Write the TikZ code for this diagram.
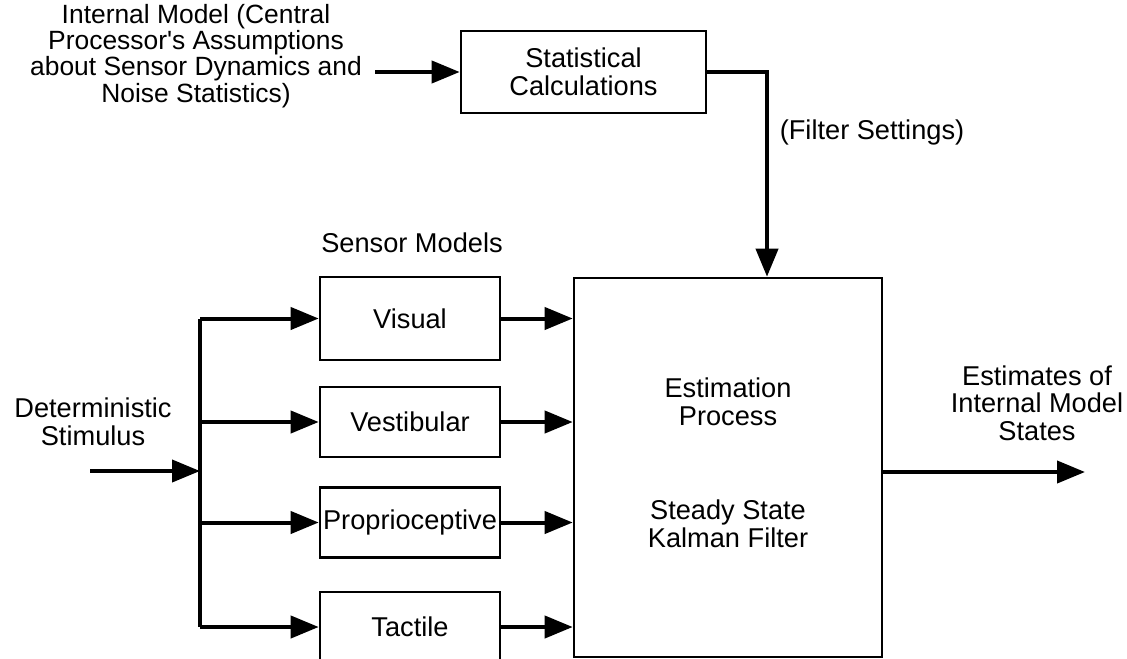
\documentclass[tikz,border=0pt]{standalone}
\usepackage{fontspec}
\setmainfont{Liberation Sans}
\usetikzlibrary{arrows.meta}

\tikzset{
  blk/.style={draw,line width=1.3pt,inner sep=0pt},
  lbl/.style={align=center,inner sep=0pt,font=\fontsize{13.6}{13.8}\selectfont},
  arr/.style={line width=2pt,-{Triangle[length=14pt,width=11pt]}}
}

\begin{document}
\begin{tikzpicture}[x=0.5pt,y=-0.5pt]
     \clip (0,0) rectangle (1127,658);
     \fill[white] (0,0) rectangle (1127,658);

     % top row
     \node[lbl,font=\fontsize{13.2}{13.1}\selectfont] (model) at (196,56) {Internal Model (Central\\Processor\textquotesingle s Assumptions\\about Sensor Dynamics and\\Noise Statistics)};
     \node[blk,lbl,minimum width=122.5pt,minimum height=41pt] (stat) at (583.5,72) {Statistical\\Calculations};
     \node[lbl] (fset) at (872,132) {(Filter Settings)};
     \coordinate (min) at (375,72);
     \coordinate (fcorner) at (767,72);
     \draw[arr] (min) -- (stat.west);

     % sensor models
     \node[lbl] (smod) at (412,243) {Sensor Models};
     \node[blk,lbl,minimum width=90pt,minimum height=41.5pt] (vis) at (410,318.5) {Visual};
     \node[blk,lbl,minimum width=90pt,minimum height=35pt] (ves) at (410,422) {Vestibular};
     \node[blk,lbl,minimum width=90pt,minimum height=35pt] (pro) at (410,522.5) {Proprioceptive};
     \node[blk,lbl,minimum width=90pt,minimum height=35pt] (tac) at (410,627) {Tactile};

     % estimator
     \node[blk,minimum width=154pt,minimum height=189.5pt] (est) at (728,467.5) {};
     \node[lbl] (eproc) at (728,402) {Estimation\\Process};
     \node[lbl] (kal) at (728,524) {Steady State\\Kalman Filter};
     \draw[arr] (stat.east) -| (est.north -| fcorner);

     % input side
     \node[lbl] (stim) at (93,422) {Deterministic\\Stimulus};
     \coordinate (stin) at (90,471);
     \coordinate (bustop) at (200,318.5);
     \coordinate (busbot) at (200,627);
     \draw[line width=2pt] (bustop) -- (busbot);
     \draw[arr] (stin) -- (stin -| bustop);
     \foreach \s in {vis,ves,pro,tac} {
       \draw[arr] (\s.west -| bustop) -- (\s.west);
       \draw[arr] (\s.east) -- (\s.east -| est.west);
     }

     % output
     \node[lbl] (outlbl) at (1037,403) {Estimates of\\Internal Model\\States};
     \coordinate (out) at (1085,472);
     \draw[arr] (est.east |- out) -- (out);
\end{tikzpicture}
\end{document}
